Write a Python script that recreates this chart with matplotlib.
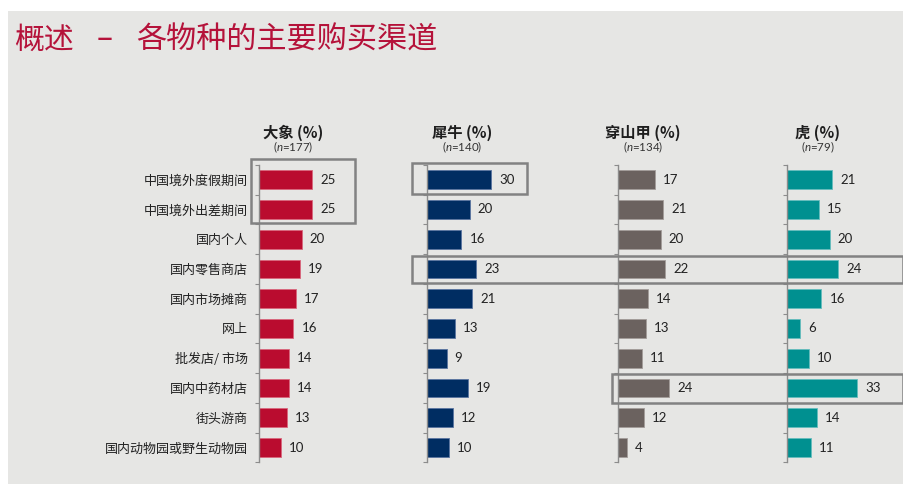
import matplotlib
matplotlib.use("Agg")
import matplotlib.pyplot as plt
from matplotlib.patches import Rectangle
from matplotlib.transforms import blended_transform_factory
from matplotlib.ticker import FixedLocator

plt.rcParams['font.family'] = ['Noto Sans CJK SC', 'DejaVu Sans']
plt.rcParams['mathtext.fontset'] = 'custom'
plt.rcParams['mathtext.rm'] = 'Lato'
plt.rcParams['mathtext.it'] = 'Lato:italic'

# ---------------- data ----------------
title_left = "概述"
title_dash = "–"
title_right = "各物种的主要购买渠道"
categories = ["中国境外度假期间", "中国境外出差期间", "国内个人", "国内零售商店", "国内市场摊商",
              "网上", "批发店/ 市场", "国内中药材店", "街头游商", "国内动物园或野生动物园"]
species = ["大象", "犀牛", "穿山甲", "虎"]
sample_sizes = [177, 140, 134, 79]
elephant = [25, 25, 20, 19, 17, 16, 14, 14, 13, 10]
rhino = [30, 20, 16, 23, 21, 13, 9, 19, 12, 10]
pangolin = [17, 21, 20, 22, 14, 13, 11, 24, 12, 4]
tiger = [21, 15, 20, 24, 16, 6, 10, 33, 14, 11]
series = [elephant, rhino, pangolin, tiger]

# ---------------- style / layout ----------------
colors = ["#BA0C2F", "#002D62", "#6B625F", "#009090"]
edge_colors = ["#D9677D", "#5A74A0", "#A39C99", "#66BDBD"]
W, H = 904, 484
axis_x_px = [259.5, 427.5, 618.5, 787.5]
header_x_px = [293, 462, 643, 818]
px_per_unit = 2.12
xmax = 40
top_px, bot_px = 164.8, 462.4
bg = "#E6E6E4"
txt = "#222222"
title_color = "#B5123A"

fig = plt.figure(figsize=(W / 100, H / 100), dpi=100)
fig.patch.set_facecolor("white")
fig.add_artist(Rectangle((8 / W, 0), 1 - 8 / W, 1 - 11 / H, transform=fig.transFigure,
                         facecolor=bg, edgecolor="none", zorder=-10))

fig.text(14 / W, 1 - 40 / H, title_left, fontsize=21.5, color=title_color, va="center", ha="left",
         fontweight="medium")
fig.text(105 / W, 1 - 40 / H, title_dash, fontsize=21.5, color=title_color, va="center", ha="center",
         fontweight="medium")
fig.text(136 / W, 1 - 40 / H, title_right, fontsize=21.7, color=title_color, va="center", ha="left",
         fontweight="medium")

axes = []
n = len(categories)
for i, (vals, sp, nn) in enumerate(zip(series, species, sample_sizes)):
    left = axis_x_px[i] / W
    width = xmax * px_per_unit / W
    ax = fig.add_axes([left, 1 - bot_px / H, width, (bot_px - top_px) / H])
    ax.set_facecolor("none")
    ypos = list(range(n))
    ax.barh(ypos, vals, height=0.63, color=colors[i], edgecolor=edge_colors[i], linewidth=0.6)
    for y, v in zip(ypos, vals):
        ax.text(v + 8 / px_per_unit, y, str(v), va="center", ha="left",
                fontsize=9.5, color=txt, family=["Lato", "DejaVu Sans"])
    ax.set_xlim(0, xmax)
    ax.set_ylim(n - 0.5, -0.5)
    for s in ["top", "right", "bottom"]:
        ax.spines[s].set_visible(False)
    ax.spines["left"].set_color("#8C8C8C")
    ax.spines["left"].set_linewidth(1.0)
    ax.set_xticks([])
    ax.yaxis.set_minor_locator(FixedLocator([k - 0.5 for k in range(n + 1)]))
    ax.tick_params(axis="y", which="minor", length=3, width=0.8, color="#8C8C8C", direction="out")
    ax.set_yticks(ypos)
    if i == 0:
        ax.set_yticklabels(categories, fontsize=9.4, color=txt, fontweight="medium")
        ax.tick_params(axis="y", which="major", length=0, pad=8.5)
    else:
        ax.set_yticklabels([])
        ax.tick_params(axis="y", which="major", length=0)
    fig.text(header_x_px[i] / W, 1 - 133 / H, f"{sp} (%)", fontsize=11, fontweight="bold",
             color="#1E1E1E", ha="center", va="center")
    fig.text(header_x_px[i] / W, 1 - 147.5 / H, f"($n$=" + str(nn) + ")", fontsize=8.3,
             color="#333333", ha="center", va="center", family=["Lato", "DejaVu Sans"])
    axes.append(ax)

# highlight boxes: (axis index for rows, first row, last row, top offset, bottom offset, x left px, x right px)
boxes = [
    (0, 0, 1, 0.70, 0.45, 251.5, 355),
    (1, 0, 0, 0.57, 0.48, 412, 527),
    (1, 3, 3, 0.44, 0.48, 412, 903),
    (2, 7, 7, 0.47, 0.50, 611.5, 903),
]
for ai, r0, r1, to, bo, xl, xr in boxes:
    tr = blended_transform_factory(fig.transFigure, axes[ai].transData)
    y_top = r0 - to
    y_bot = r1 + bo
    rect = Rectangle((xl / W, y_bot), (xr - xl) / W, y_top - y_bot, transform=tr,
                     facecolor="none", edgecolor="#828282", linewidth=1.8, clip_on=False, zorder=5)
    fig.add_artist(rect)

fig.savefig("out.png", dpi=100, facecolor=fig.get_facecolor())
